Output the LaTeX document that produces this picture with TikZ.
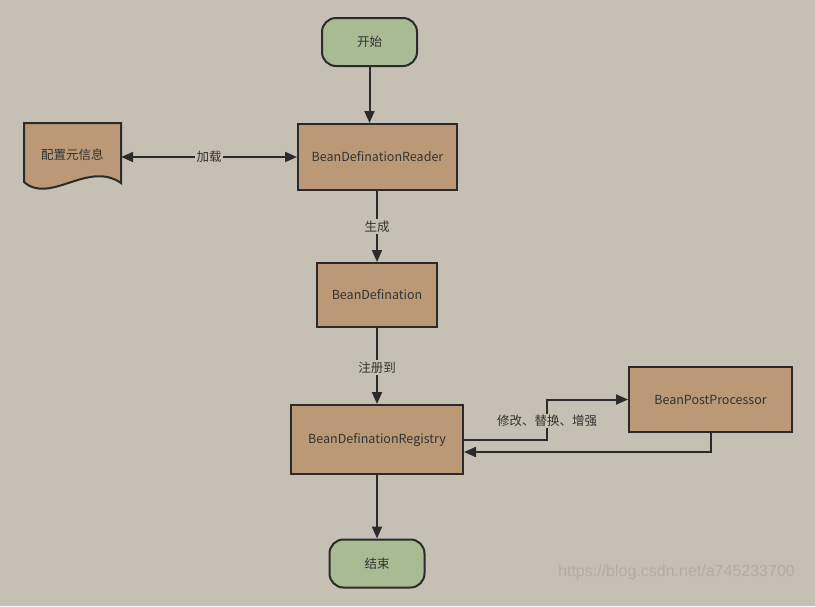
\documentclass[tikz,border=0pt]{standalone}
\usepackage{fontspec}
\setmainfont{Noto Sans CJK SC}
\newfontfamily\wmfont{Liberation Sans}
\usetikzlibrary{arrows.meta,calc}
\definecolor{bgc}{HTML}{C6BFB3}
\definecolor{boxc}{HTML}{BB9976}
\definecolor{greenc}{HTML}{A8BB92}
\definecolor{linec}{HTML}{2B2B2B}
\definecolor{textc}{HTML}{333333}
\definecolor{wmc}{HTML}{B4ACA0}
\begin{document}
\begin{tikzpicture}[x=1pt,y=-1pt,
  every node/.style={font=\fontsize{12.5}{14}\selectfont, text=textc},
  procbox/.style={draw=linec, line width=2pt, fill=boxc, inner sep=0pt, anchor=center},
  termbox/.style={draw=linec, line width=2pt, fill=greenc, rounded corners=14pt, inner sep=0pt, minimum width=95pt, minimum height=48pt},
  conn/.style={draw=linec, line width=2pt, -{Triangle[length=12pt,width=10pt]}},
  lbl/.style={fill=bgc, inner sep=1.5pt}]
\fill[bgc] (0,0) rectangle (815,606);
\useasboundingbox (0,0) rectangle (815,606);

\node[termbox] (start) at (369.5,42) {开始};
\node[procbox, minimum width=159pt, minimum height=66pt] (reader) at (377.5,157) {BeanDefinationReader};
\node[procbox, minimum width=120pt, minimum height=64pt] (def) at (377,295) {BeanDefination};
\node[procbox, minimum width=172pt, minimum height=69pt] (reg) at (377,439.5) {BeanDefinationRegistry};
\node[procbox, minimum width=163pt, minimum height=65pt] (bpp) at (710.5,399.5) {BeanPostProcessor};
\node[termbox] (end) at (377,563.5) {结束};

% document shape
\fill[boxc, draw=linec, line width=2pt, line join=miter]
  (24,123) -- (121,123) -- (121,183) .. controls (88,160) and (50,205) .. (24,182) -- cycle;
\node[minimum width=97pt, minimum height=60pt, inner sep=0pt] (doc) at (72.5,155) {配置元信息};

% connectors
\draw[conn] (start.south) -- (start.south |- reader.north);
\draw[draw=linec, line width=2pt, {Triangle[length=12pt,width=10pt]}-{Triangle[length=12pt,width=10pt]}]
  (reader.west -| doc.east) -- node[lbl] (l1) {加载} (reader.west);
\draw[conn] (reader.south -| def.north) -- node[lbl, pos=0.5] (l2) {生成} (def.north);
\draw[conn] (def.south) -- node[lbl, pos=0.52] (l3) {注册到} (reg.north);
\coordinate (c1) at (547,440);
\draw[conn] (reg.east |- c1) -- (c1) |- (bpp.west);
\node[lbl] (l4) at (547,421) {修改、替换、增强};
\coordinate (c2) at (711,452);
\draw[conn] (bpp.south -| c2) -- (c2) -- (c2 -| reg.east);
\draw[conn] (reg.south) -- (end.north);

\node[font=\wmfont\fontsize{16}{18}\selectfont, text=wmc, anchor=center] (wm) at (676.5,572.5) {https://blog.csdn.net/a745233700};
\end{tikzpicture}
\end{document}
